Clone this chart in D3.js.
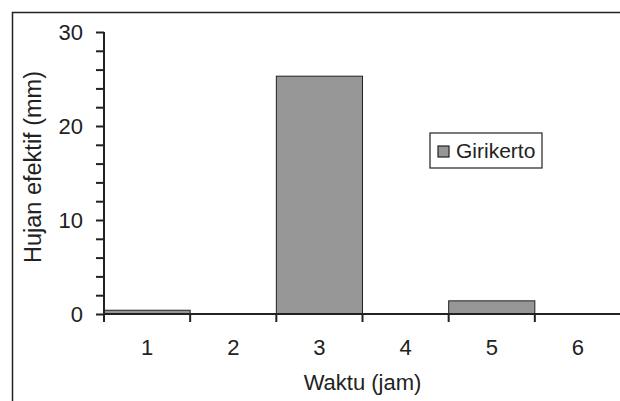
<!DOCTYPE html>
<html>
<head>
<meta charset="utf-8">
<script src="https://cdn.jsdelivr.net/npm/d3@7"></script>
<style>
  body { margin: 0; background: #fff; }
  svg { display: block; }
  text { font-family: "Liberation Sans", Arial, sans-serif; fill: #222; }
</style>
</head>
<body>
<script>
// data
var categories = ["1", "2", "3", "4", "5", "6"];
var hujan = [0.4, 0, 25.3, 0, 1.4, 0];
var yTicks = [0, 10, 20, 30];
var seriesName = "Girikerto";

var width = 620, height = 401;
var margin = {top: 32, right: -1, bottom: 87, left: 104};
var w = width - margin.left - margin.right, h = height - margin.top - margin.bottom;

var svg = d3.select("body").append("svg")
    .attr("width", width)
    .attr("height", height);

// outer chart frame (runs off the right and bottom edges)
svg.append("rect")
    .attr("x", 12.5).attr("y", 12.5)
    .attr("width", 700).attr("height", 500)
    .attr("fill", "none").attr("stroke", "#222").attr("stroke-width", 1.5);

var g = svg.append("g")
    .attr("transform", "translate(" + margin.left + "," + margin.top + ")");

var xScale = d3.scaleBand()
    .domain(categories)
    .range([0, w])
    .padding(0);

var yScale = d3.scaleLinear()
    .domain([0, 30])
    .range([h, 0]);

// bars
g.selectAll(".bar")
    .data(hujan)
    .enter().append("rect")
    .attr("class", "bar")
    .attr("x", function(d, i) { return xScale(categories[i]); })
    .attr("y", function(d) { return yScale(d); })
    .attr("width", xScale.bandwidth())
    .attr("height", function(d) { return h - yScale(d); })
    .attr("fill", "#969696")
    .attr("stroke", "#222")
    .attr("stroke-width", 1)
    .style("display", function(d) { return d > 0 ? null : "none"; });

// y axis with minor ticks every 2
var yAxis = g.append("g")
    .attr("class", "y axis")
    .call(d3.axisLeft(yScale).tickValues(d3.range(0, 31, 2)).tickSize(8).tickPadding(13)
        .tickFormat(function(d) { return yTicks.indexOf(d) >= 0 ? d : ""; }));

// x axis: ticks at band boundaries, labels in band centres
var xAxis = g.append("g")
    .attr("class", "x axis")
    .attr("transform", "translate(0," + h + ")")
    .call(d3.axisBottom(xScale).tickSize(0).tickPadding(25));

xAxis.selectAll(".edge")
    .data(d3.range(categories.length + 1))
    .enter().append("line")
    .attr("x1", function(i) { return i * xScale.step(); })
    .attr("x2", function(i) { return i * xScale.step(); })
    .attr("y1", 0).attr("y2", 8)
    .attr("stroke", "#222").attr("stroke-width", 2);

g.selectAll(".axis path, .axis line")
    .attr("stroke", "#222").attr("stroke-width", 2);
yAxis.select(".domain").attr("d", "M0," + (h + 8) + "V0");
xAxis.select(".domain").attr("d", "M0,0H" + w);
g.selectAll(".axis text")
    .style("font-size", "22px")
    .attr("fill", "#222");

// axis titles
svg.append("text")
    .attr("transform", "translate(" + (margin.left + w / 2) + "," + 390 + ")")
    .attr("text-anchor", "middle")
    .style("font-size", "22px")
    .text("Waktu (jam)");

svg.append("text")
    .attr("transform", "rotate(-90)")
    .attr("y", 41)
    .attr("x", -167)
    .attr("text-anchor", "middle")
    .style("font-size", "23.5px")
    .text("Hujan efektif (mm)");

// legend
var legend = svg.append("g").attr("transform", "translate(430,133)");
legend.append("rect")
    .attr("width", 112).attr("height", 35)
    .attr("fill", "#fff").attr("stroke", "#222").attr("stroke-width", 1.2);
legend.append("rect")
    .attr("x", 8).attr("y", 13).attr("width", 11).attr("height", 11)
    .attr("fill", "#969696").attr("stroke", "#222").attr("stroke-width", 1.2);
legend.append("text")
    .attr("x", 26).attr("y", 25)
    .style("font-size", "21px")
    .text(seriesName);
</script>
</body>
</html>
